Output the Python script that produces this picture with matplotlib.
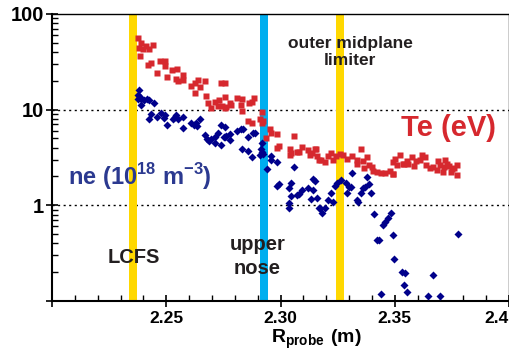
import numpy as np
import matplotlib
matplotlib.use("Agg")
import matplotlib.pyplot as plt
from matplotlib.ticker import LogLocator, NullFormatter

plt.rcParams['font.family'] = ['Liberation Sans', 'DejaVu Sans']
plt.rcParams['font.weight'] = 'bold'
plt.rcParams['mathtext.fontset'] = 'custom'
plt.rcParams['mathtext.bf'] = 'Liberation Sans:bold'
plt.rcParams['mathtext.rm'] = 'Liberation Sans:bold'

# electron temperature from the probe (eV)
R_te = [2.2378, 2.2391, 2.2381, 2.2398, 2.2413, 2.2423, 2.2443, 2.2386, 2.2421, 2.2432,
        2.2473, 2.2493, 2.2496, 2.2461, 2.2505, 2.2526, 2.2548, 2.2541, 2.2551, 2.2575,
        2.2575, 2.2610, 2.2625, 2.2639, 2.2649, 2.2627, 2.2671, 2.2675, 2.2683, 2.2715,
        2.2730, 2.2695, 2.2726, 2.2741, 2.2758, 2.2756, 2.2758, 2.2743, 2.2762, 2.2779,
        2.2782, 2.2811, 2.2832, 2.2828, 2.2833, 2.2861, 2.2877, 2.2885, 2.2859, 2.2877,
        2.2920, 2.2910, 2.2925, 2.2918, 2.2954, 2.2960, 2.2986, 2.2938, 2.3060, 2.2995,
        2.2983, 2.3042, 2.3047, 2.3042, 2.3074, 2.3082, 2.3095, 2.3122, 2.3129, 2.3137,
        2.3154, 2.3161, 2.3170, 2.3176, 2.3195, 2.3209, 2.3220, 2.3231, 2.3243, 2.3260,
        2.3275, 2.3292, 2.3312, 2.3333, 2.3333, 2.3354, 2.3362, 2.3377, 2.3367, 2.3389,
        2.3399, 2.3406, 2.3421, 2.3439, 2.3457, 2.3479, 2.3494, 2.3494, 2.3511, 2.3523,
        2.3540, 2.3555, 2.3501, 2.3537, 2.3559, 2.3575, 2.3584, 2.3593, 2.3611, 2.3618,
        2.3632, 2.3637, 2.3654, 2.3669, 2.3684, 2.3691, 2.3698, 2.3710, 2.3716, 2.3721,
        2.3730, 2.3739, 2.3745, 2.3749, 2.3759, 2.3771, 2.3774, 2.3491, 2.3151]
Te = [55.7, 49.3, 43.7, 42.7, 46.2, 42.7, 47.0, 36.1, 29.0, 30.5,
      32.0, 32.4, 28.3, 23.9, 21.7, 25.7, 26.4, 20.7, 20.0, 22.8,
      20.4, 17.6, 18.8, 20.2, 17.1, 14.8, 19.7, 13.7, 11.6, 12.1,
      12.6, 10.5, 10.9, 18.8, 18.8, 13.4, 10.5, 10.9, 10.7, 11.8,
      11.1, 13.1, 12.8, 11.1, 9.58, 11.8, 12.0, 13.1, 7.52, 7.17,
      9.35, 7.89, 7.63, 7.17, 6.21, 5.63, 5.54, 5.03, 5.28, 4.15,
      3.92, 3.83, 3.53, 3.34, 3.59, 3.59, 4.02, 3.74, 3.34, 3.53,
      3.83, 3.26, 2.96, 2.96, 2.82, 3.26, 3.48, 2.96, 3.26, 3.42,
      3.36, 3.01, 3.26, 2.96, 2.73, 3.83, 2.91, 3.16, 2.48, 2.64,
      2.52, 2.29, 2.22, 2.15, 2.18, 2.29, 2.11, 2.82, 2.61, 3.36,
      2.73, 2.91, 3.01, 2.69, 2.73, 3.16, 2.56, 2.91, 2.96, 3.36,
      3.16, 2.61, 2.48, 2.52, 2.33, 2.87, 2.61, 2.22, 2.52, 2.96,
      2.69, 2.56, 2.22, 2.40, 2.48, 2.61, 2.05, 2.11, 3.83]

# electron density (10^18 m^-3)
R_ne = [2.2379, 2.2376, 2.2385, 2.2391, 2.2376, 2.2403, 2.2414, 2.2423, 2.2388, 2.2446,
        2.2423, 2.2432, 2.2458, 2.2476, 2.2490, 2.2496, 2.2505, 2.2528, 2.2544, 2.2551,
        2.2537, 2.2575, 2.2573, 2.2610, 2.2621, 2.2630, 2.2633, 2.2648, 2.2671, 2.2677,
        2.2688, 2.2695, 2.2715, 2.2726, 2.2738, 2.2758, 2.2758, 2.2715, 2.2738, 2.2753,
        2.2762, 2.2779, 2.2779, 2.2811, 2.2828, 2.2835, 2.2832, 2.2858, 2.2858, 2.2878,
        2.2887, 2.2877, 2.2919, 2.2913, 2.2919, 2.2910, 2.2925, 2.2940, 2.2957, 2.2960,
        2.2986, 2.3059, 2.2983, 2.2995, 2.3039, 2.3047, 2.3047, 2.3074, 2.3082, 2.3094,
        2.3120, 2.3132, 2.3141, 2.3152, 2.3144, 2.3161, 2.3039, 2.3036, 2.3170, 2.3173,
        2.3182, 2.3195, 2.3209, 2.3220, 2.3228, 2.3239, 2.3249, 2.3263, 2.3287, 2.3301,
        2.3310, 2.3292, 2.3313, 2.3333, 2.3339, 2.3351, 2.3362, 2.3370, 2.3377, 2.3389,
        2.3397, 2.3409, 2.3421, 2.3430, 2.3450, 2.3459, 2.3470, 2.3482, 2.3494, 2.3497,
        2.3532, 2.3546, 2.3540, 2.3555, 2.3438, 2.3646, 2.3698, 2.3666, 2.3777]
ne = [16.0, 14.1, 13.6, 13.0, 13.0, 12.6, 13.0, 12.6, 11.2, 11.8,
      8.01, 8.97, 8.28, 9.26, 8.15, 8.82, 6.83, 8.01, 8.70, 7.89,
      8.28, 8.41, 6.40, 7.27, 6.88, 7.27, 6.72, 7.89, 5.45, 4.95,
      4.71, 4.87, 5.19, 5.71, 6.93, 6.51, 5.19, 4.43, 4.28, 5.12,
      5.28, 5.54, 4.79, 6.00, 6.21, 6.30, 3.83, 3.70, 5.12, 5.71,
      5.71, 3.20, 4.49, 3.83, 3.61, 3.32, 3.42, 2.42, 3.26, 2.96,
      2.84, 2.52, 1.58, 1.66, 1.53, 1.69, 1.26, 1.28, 1.30, 1.44,
      1.51, 1.16, 1.86, 1.78, 1.44, 1.18, 1.06, 0.946, 0.946, 0.930,
      0.831, 0.946, 1.13, 1.35, 1.09, 1.58, 1.71, 1.83, 1.71, 1.55,
      1.55, 1.33, 2.18, 1.13, 1.075, 1.35, 1.50, 1.55, 1.95, 1.66,
      1.33, 0.805, 0.437, 0.437, 0.617, 0.675, 0.743, 0.831, 0.489, 0.274,
      0.199, 0.195, 0.146, 0.125, 0.117, 0.1115, 0.1115, 0.188, 0.505]

# marked radial positions: LCFS, upper nose, outer midplane limiter
band_R = [2.2355, 2.2928, 2.3260]
band_colors = ['#ffd800', '#00aeef', '#ffd800']
band_width = 0.0035

fig = plt.figure(figsize=(5.1, 3.54), dpi=100)
ax = fig.add_axes([0.102, 0.150, 0.896, 0.8107])
ax.set_yscale('log')
ax.set_xlim(2.2, 2.4)
ax.set_ylim(0.1, 100)

for y in [1, 10]:
    ax.axhline(y, color='black', lw=1.0, ls=(0, (1.5, 2.5)), zorder=1)

for r, c in zip(band_R, band_colors):
    ax.axvspan(r - band_width / 2, r + band_width / 2, color=c, lw=0, zorder=2)

ax.plot(R_te, Te, 's', ms=4.3, color='#d6282e', mec='none', zorder=4)
ax.plot(R_ne, ne, 'D', ms=3.6, color='#00008b', mec='none', zorder=4)

ax.set_xticks([2.2, 2.25, 2.3, 2.35, 2.4], ['', '2.25', '2.30', '2.35', '2.4'])
ax.set_xticks(np.arange(2.2, 2.4001, 0.01), minor=True)
ax.set_yticks([0.1, 1, 10, 100], ['', '1', '10', '100'])
ax.yaxis.set_minor_locator(LogLocator(base=10, subs=np.arange(2, 10)))
ax.yaxis.set_minor_formatter(NullFormatter())

ax.tick_params(axis='both', which='major', direction='inout', length=8, width=1.2)
ax.tick_params(axis='both', which='minor', direction='in', length=4, width=1.0)
ax.tick_params(axis='y', which='major', labelsize=14.5, pad=2)
ax.tick_params(axis='x', which='major', labelsize=12.5, pad=3)
for lab in ax.get_xticklabels() + ax.get_yticklabels():
    lab.set_fontweight('bold')
# last x label sits flush against the right edge
ax.get_xticklabels()[-1].set_horizontalalignment('right')

for side in ['left', 'bottom']:
    ax.spines[side].set_linewidth(1.5)
for side in ['top', 'right']:
    ax.spines[side].set_linewidth(1.0)

ax.set_xlabel(r'$\mathbf{R_{probe}\ (m)}$', fontsize=14)
ax.xaxis.label.set_va('center')
ax.xaxis.set_label_coords(0.578, -0.135)

txt = '#231f20'
ax.text(0.652, 0.868, 'outer midplane\nlimiter', transform=ax.transAxes, ha='center',
        va='center', fontsize=12.5, fontweight='bold', color=txt, linespacing=1.2, zorder=5)
ax.text(0.178, 0.15, 'LCFS', transform=ax.transAxes, ha='center', va='center',
        fontsize=14.5, fontweight='bold', color=txt, zorder=5)
ax.text(0.449, 0.155, 'upper\nnose', transform=ax.transAxes, ha='center', va='center',
        fontsize=14.5, fontweight='bold', color=txt, linespacing=1.3, zorder=5)
ax.text(0.867, 0.603, 'Te (eV)', transform=ax.transAxes, ha='center', va='center',
        fontsize=21, fontweight='bold', color='#d6282e', zorder=5)
ax.text(0.193, 0.404, r'ne (10$^{\mathbf{18}}$ m$^{\mathbf{-3}}$)', transform=ax.transAxes,
        ha='center', va='baseline', fontsize=17, fontweight='bold', color='#2b3990', zorder=5)

fig.savefig('out.png', dpi=100)
